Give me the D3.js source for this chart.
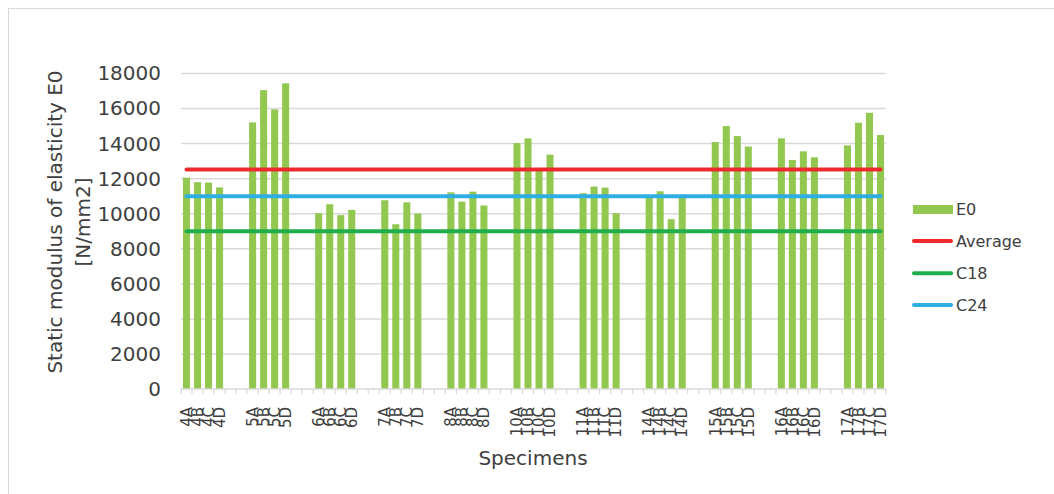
<!DOCTYPE html>
<html>
<head>
<meta charset="utf-8">
<script src="https://cdn.jsdelivr.net/npm/d3@7"></script>
<style>
  html, body { margin: 0; padding: 0; background: #ffffff; }
  svg { display: block; }
  text { font-family: "DejaVu Sans", Verdana, sans-serif; fill: #404040; }
</style>
</head>
<body>
<script>
// Specimen slots; empty strings are spacer slots between specimen groups
const categories = [
  "4A","4B","4C","4D","","",
  "5A","5B","5C","5D","","",
  "6A","6B","6C","6D","","",
  "7A","7B","7C","7D","","",
  "8A","8B","8C","8D","","",
  "10A","10B","10C","10D","","",
  "11A","11B","11C","11D","","",
  "14A","14B","14C","14D","","",
  "15A","15B","15C","15D","","",
  "16A","16B","16C","16D","","",
  "17A","17B","17C","17D"
];

// Static modulus of elasticity E0 [N/mm2] per slot (null = spacer)
const e0 = [
  12060, 11800, 11780, 11500, null, null,
  15210, 17050, 15950, 17440, null, null,
  10030, 10540, 9920, 10220, null, null,
  10770, 9400, 10650, 10010, null, null,
  11220, 10690, 11260, 10470, null, null,
  14030, 14300, 12500, 13370, null, null,
  11170, 11550, 11490, 10030, null, null,
  10950, 11280, 9690, 10980, null, null,
  14090, 15000, 14430, 13830, null, null,
  14300, 13070, 13560, 13220, null, null,
  13900, 15190, 15760, 14490
];

// Reference levels
const averageValue = 12520;
const c18Value = 9000;
const c24Value = 11000;

const yTicks = [0, 2000, 4000, 6000, 8000, 10000, 12000, 14000, 16000, 18000];

const W = 1054, H = 494;
const plot = { left: 181, right: 886, top: 73.5, bottom: 389 };

const colors = {
  bar: "#92c850",
  average: "#ee2a2e",
  c18: "#1fae4b",
  c24: "#2eaee2",
  grid: "#d9d9d9"
};

const svg = d3.select("body").append("svg")
  .attr("width", W).attr("height", H);

// Chart frame
svg.append("rect")
  .attr("x", 8.5).attr("y", 8.5)
  .attr("width", 1200).attr("height", 700)
  .attr("fill", "none").attr("stroke", "#d9d9d9").attr("stroke-width", 1);

const x = d3.scaleBand()
  .domain(d3.range(categories.length))
  .range([plot.left, plot.right])
  .paddingInner(0.36)
  .paddingOuter(0.18);

const y = d3.scaleLinear()
  .domain([0, 18000])
  .range([plot.bottom, plot.top]);

// Horizontal gridlines
svg.append("g")
  .selectAll("line")
  .data(yTicks.filter(d => d > 0))
  .join("line")
  .attr("x1", plot.left).attr("x2", plot.right)
  .attr("y1", d => y(d)).attr("y2", d => y(d))
  .attr("stroke", colors.grid).attr("stroke-width", 1.5);

// Y axis labels
const yAxis = d3.axisLeft(y)
  .tickValues(yTicks)
  .tickFormat(d3.format("d"))
  .tickSize(0)
  .tickPadding(0);
const yg = svg.append("g")
  .attr("transform", `translate(${plot.left - 20},0)`)
  .call(yAxis);
yg.select(".domain").remove();
yg.selectAll("text")
  .style("font-size", "20px")
  .attr("font-family", null)
  .attr("fill", "#404040");

// Bars
svg.append("g")
  .selectAll("rect")
  .data(e0.map((v, i) => ({ i, v })).filter(d => d.v !== null))
  .join("rect")
  .attr("x", d => x(d.i))
  .attr("width", x.bandwidth())
  .attr("y", d => y(d.v))
  .attr("height", d => y(0) - y(d.v))
  .attr("fill", colors.bar);

// Category axis: baseline, boundary ticks and rotated labels
const step = x.step();
const axisG = svg.append("g");
axisG.append("line")
  .attr("x1", plot.left).attr("x2", plot.right)
  .attr("y1", y(0)).attr("y2", y(0))
  .attr("stroke", colors.grid).attr("stroke-width", 1.5);
axisG.selectAll("line.tick")
  .data(d3.range(categories.length + 1))
  .join("line")
  .attr("class", "tick")
  .attr("x1", i => plot.left + i * step).attr("x2", i => plot.left + i * step)
  .attr("y1", y(0)).attr("y2", y(0) + 5)
  .attr("stroke", colors.grid).attr("stroke-width", 1.2);

axisG.selectAll("text")
  .data(categories.map((c, i) => ({ c, i })).filter(d => d.c !== ""))
  .join("text")
  .attr("transform", d => `translate(${x(d.i) + x.bandwidth() / 2},${y(0) + 18}) rotate(-90)`)
  .attr("text-anchor", "end")
  .attr("dy", "0.35em")
  .style("font-size", "15px")
  .text(d => d.c);

// Reference lines spanning first to last slot centre
const xFirst = x(0) + x.bandwidth() / 2;
const xLast = x(categories.length - 1) + x.bandwidth() / 2;
const refLines = [
  { name: "Average", value: averageValue, color: colors.average },
  { name: "C18", value: c18Value, color: colors.c18 },
  { name: "C24", value: c24Value, color: colors.c24 }
];
svg.append("g")
  .selectAll("line")
  .data(refLines)
  .join("line")
  .attr("x1", xFirst).attr("x2", xLast)
  .attr("y1", d => y(d.value)).attr("y2", d => y(d.value))
  .attr("stroke", d => d.color)
  .attr("stroke-width", 4)
  .attr("stroke-linecap", "round");

// Axis titles
svg.append("text")
  .attr("transform", "translate(55,222) rotate(-90)")
  .attr("text-anchor", "middle")
  .attr("dy", "0.35em")
  .style("font-size", "20px")
  .text("Static modulus of elasticity E0");
svg.append("text")
  .attr("transform", "translate(83,222) rotate(-90)")
  .attr("text-anchor", "middle")
  .attr("dy", "0.35em")
  .style("font-size", "20px")
  .text("[N/mm2]");
svg.append("text")
  .attr("x", 533).attr("y", 465)
  .attr("text-anchor", "middle")
  .style("font-size", "20px")
  .text("Specimens");

// Legend
const legend = svg.append("g");
const legendRows = [
  { name: "E0", type: "bar", color: colors.bar, cy: 209.5 },
  { name: "Average", type: "line", color: colors.average, cy: 241 },
  { name: "C18", type: "line", color: colors.c18, cy: 273.3 },
  { name: "C24", type: "line", color: colors.c24, cy: 305 }
];
legendRows.forEach(r => {
  if (r.type === "bar") {
    legend.append("rect")
      .attr("x", 913).attr("y", r.cy - 4.5)
      .attr("width", 40).attr("height", 9)
      .attr("fill", r.color);
  } else {
    legend.append("line")
      .attr("x1", 914).attr("x2", 951)
      .attr("y1", r.cy).attr("y2", r.cy)
      .attr("stroke", r.color).attr("stroke-width", 4)
      .attr("stroke-linecap", "round");
  }
  legend.append("text")
    .attr("x", 956).attr("y", r.cy)
    .attr("dy", "0.35em")
    .style("font-size", "16px")
    .text(r.name);
});
</script>
</body>
</html>
